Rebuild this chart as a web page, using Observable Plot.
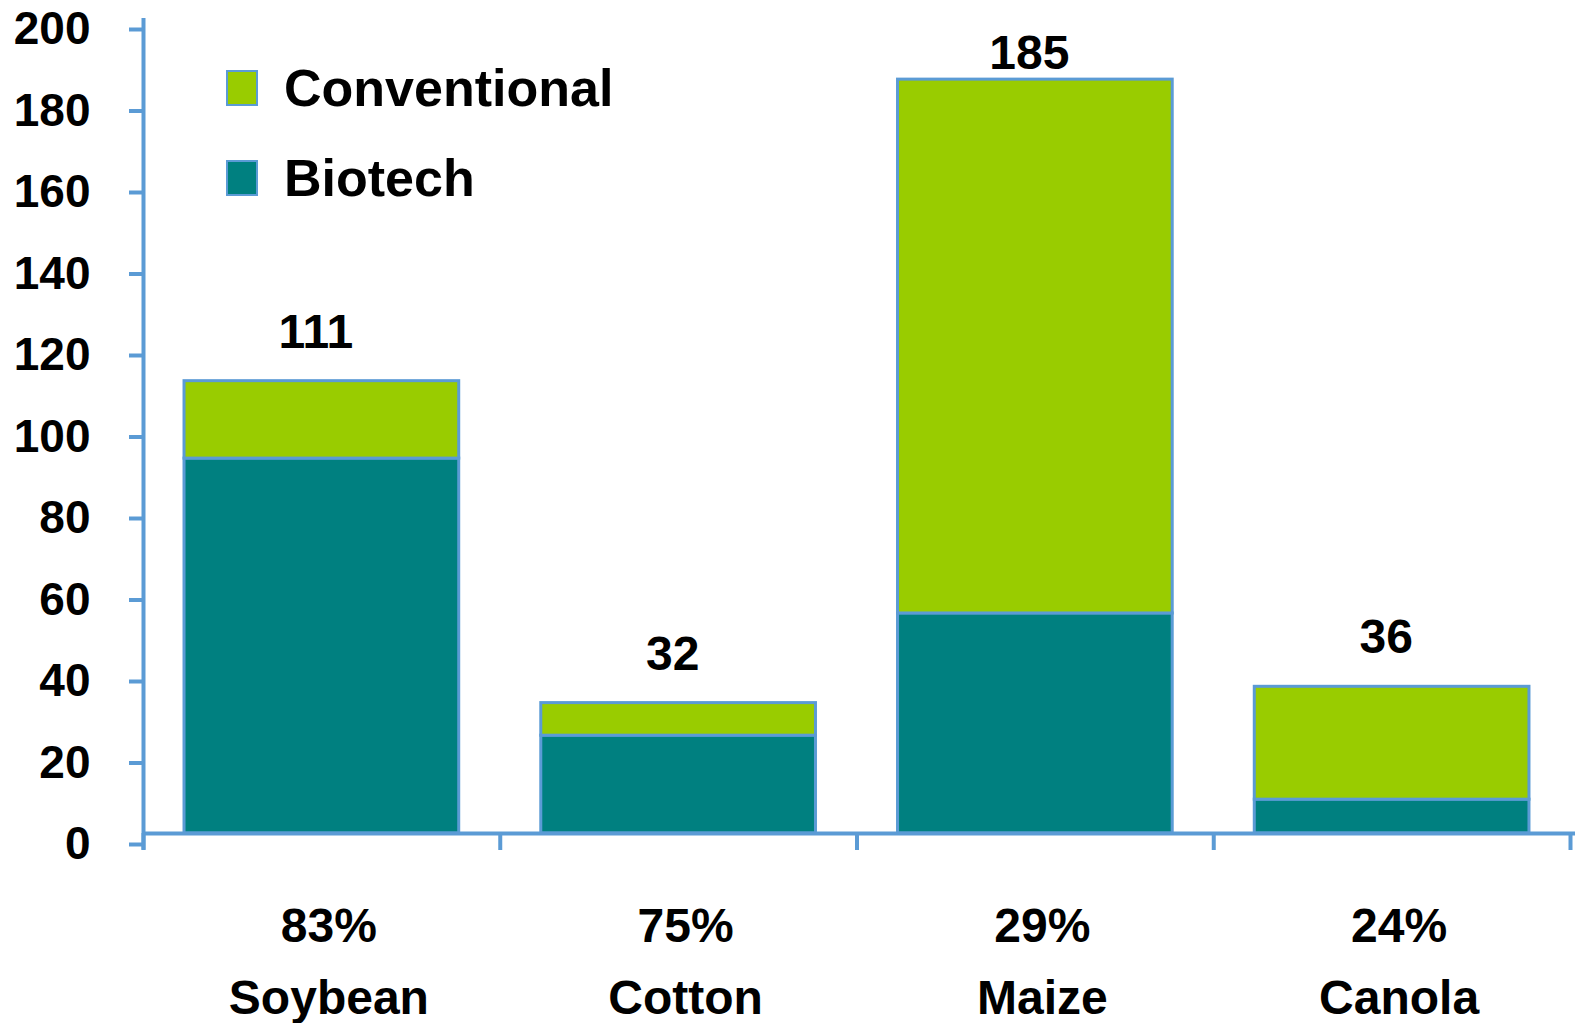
<!DOCTYPE html>
<html>
<head>
<meta charset="utf-8">
<script src="https://cdn.jsdelivr.net/npm/d3@7"></script>
<script src="https://cdn.jsdelivr.net/npm/@observablehq/plot@0.6"></script>
<style>
  html, body { margin: 0; padding: 0; background: #fff; }
  #wrap { position: relative; width: 1575px; height: 1023px; font-family: "Liberation Sans", Arial, sans-serif; }
  #legend { position: absolute; left: 226px; top: 61px; }
  .row { display: flex; align-items: center; height: 54px; margin-bottom: 36px; }
  .sw { width: 28px; height: 32px; border: 2px solid #5B9BD5; margin-right: 26px; }
  .lab { font-size: 52px; font-weight: bold; color: #000; }
</style>
</head>
<body>
<div id="wrap"><div id="legend"></div></div>
<script>
const crops = ["Soybean", "Cotton", "Maize", "Canola"];
const totals = [111, 32, 185, 36];
const biotech = [92, 24, 54, 8.3];
const biotechShare = ["83%", "75%", "29%", "24%"];
const yTicks = [0, 20, 40, 60, 80, 100, 120, 140, 160, 180, 200];
const seriesNames = ["Conventional", "Biotech"];
const seriesColors = ["#99CC00", "#008080"];

const blue = "#5B9BD5";
const rows = crops.map((c, i) => ({
  i, crop: c, total: totals[i], biotech: biotech[i], share: biotechShare[i]
}));
const pad = 0.115;

const chart = Plot.plot({
  width: 1575,
  height: 1023,
  marginLeft: 143,
  marginRight: 5,
  marginTop: 18,
  marginBottom: 190,
  style: { fontFamily: "Liberation Sans, Arial, sans-serif", background: "#fff" },
  x: { domain: [0, 4] },
  y: { domain: [0, 200] },
  marks: [
    Plot.rectY(rows, { x1: d => d.i + pad, x2: d => d.i + 1 - pad, y1: 0, y2: "biotech",
      fill: seriesColors[1], stroke: blue, strokeWidth: 3 }),
    Plot.rectY(rows, { x1: d => d.i + pad, x2: d => d.i + 1 - pad, y1: "biotech", y2: "total",
      fill: seriesColors[0], stroke: blue, strokeWidth: 3 }),
    Plot.ruleY([0], { x1: 0, x2: 4.02, stroke: blue, strokeWidth: 4 }),
    Plot.ruleX([0], { y1: -4.1, y2: 200, stroke: blue, strokeWidth: 4 }),
    Plot.axisY({ ticks: yTicks, tickSize: 14, tickPadding: 39, stroke: blue, strokeWidth: 4,
      fontSize: 46, fontWeight: "bold", fill: "#000", dy: 11, label: null, tickFormat: d => d }),
    Plot.axisX({ ticks: [0, 1, 2, 3, 4], tickSize: 17, stroke: blue, strokeWidth: 4,
      tickFormat: () => "", label: null }),
    Plot.text(rows, { x: d => d.i + 0.5, y: d => Math.min(d.total + 12, 191.5), text: d => String(d.total),
      fontSize: 48, fontWeight: "bold", fill: "#000", dx: -6 }),
    Plot.text(rows, { x: d => d.i + 0.5, frameAnchor: "bottom", text: "share", dy: 108, dx: 7,
      fontSize: 48, fontWeight: "bold", fill: "#000" }),
    Plot.text(rows, { x: d => d.i + 0.5, frameAnchor: "bottom", text: "crop", dy: 180, dx: 7,
      fontSize: 48, fontWeight: "bold", fill: "#000" })
  ]
});
document.getElementById("wrap").prepend(chart);
chart.style.position = "absolute";
chart.style.left = "0";
chart.style.top = "0";

const legend = document.getElementById("legend");
seriesNames.forEach((n, k) => {
  const r = document.createElement("div");
  r.className = "row";
  r.innerHTML = `<div class="sw" style="background:${seriesColors[k]}"></div><div class="lab">${n}</div>`;
  legend.appendChild(r);
});
</script>
</body>
</html>
